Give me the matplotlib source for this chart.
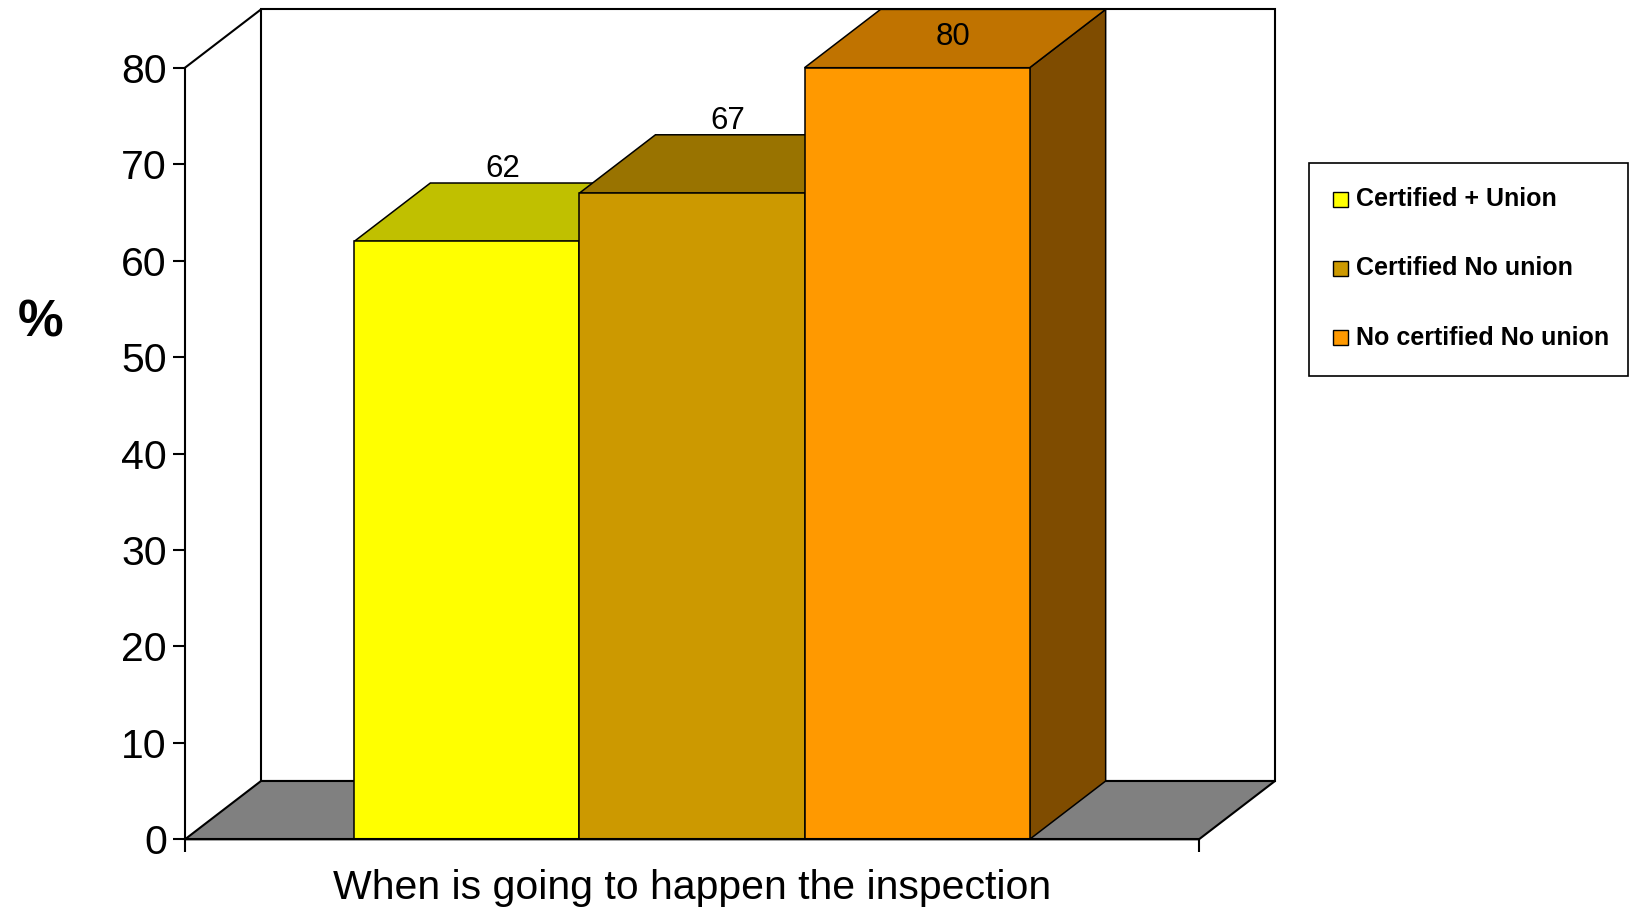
import matplotlib
matplotlib.use("Agg")
import matplotlib.pyplot as plt
from matplotlib.patches import Polygon, Rectangle
from matplotlib.transforms import blended_transform_factory

plt.rcParams['font.family'] = ['Liberation Sans', 'DejaVu Sans']

# ---- data ----
categories = ["When is going to happen the inspection"]
series = ["Certified + Union", "Certified No union", "No certified No union"]
values = [62, 67, 80]
front_colors = ["#FFFF00", "#CC9900", "#FF9900"]
top_colors = ["#C0C000", "#997300", "#C07300"]
side_colors = ["#808000", "#664C00", "#7F4C00"]
y_ticks = [0, 10, 20, 30, 40, 50, 60, 70, 80]
y_label = "%"

W, H = 1631, 911
fig = plt.figure(figsize=(W / 100, H / 100), dpi=100)

# axes: front floor from px x=185..1199, value 0 at px y=839.3, 80 at 67.7
x0, x1 = 185, 1199
yb, yt = 839.3, 67.7
ax = fig.add_axes([x0 / W, (H - yb) / H, (x1 - x0) / W, (yb - yt) / H])
ymax = 80
ax.set_xlim(0, 1)
ax.set_ylim(0, ymax)

px_per_unit = (yb - yt) / ymax
dx = 76 / (x1 - x0)
dy = 58.3 / px_per_unit

lw_axis = 1.5
lw_bar = 1.1

# back wall
ax.add_patch(Polygon([(dx, dy), (1 + dx, dy), (1 + dx, ymax + dy), (dx, ymax + dy)],
                     closed=True, facecolor="white", edgecolor="black",
                     lw=lw_axis, clip_on=False, zorder=1))
# floor
ax.add_patch(Polygon([(0, 0), (1, 0), (1 + dx, dy), (dx, dy)], closed=True,
                     facecolor="#808080", edgecolor="black", lw=lw_axis,
                     clip_on=False, zorder=1.5))
# left wall top edge
ax.plot([0, dx], [ymax, ymax + dy], color="black", lw=lw_axis, clip_on=False, zorder=1.6)

# highest baseline allowed for a value label (keeps it inside the figure)
label_cap = (yb - 45) / px_per_unit

# bars
n = len(values)
bw = 0.222
start = 0.5 - n * bw / 2
for i, (v, fc, tc, sc) in enumerate(zip(values, front_colors, top_colors, side_colors)):
    l = start + i * bw
    r = l + bw
    z = 3 + i
    ax.add_patch(Polygon([(r, 0), (r + dx, dy), (r + dx, v + dy), (r, v)], closed=True,
                         facecolor=sc, edgecolor="black", lw=lw_bar, clip_on=False, zorder=z))
    ax.add_patch(Polygon([(l, v), (r, v), (r + dx, v + dy), (l + dx, v + dy)], closed=True,
                         facecolor=tc, edgecolor="black", lw=lw_bar, clip_on=False, zorder=z))
    ax.add_patch(Rectangle((l, 0), bw, v, facecolor=fc, edgecolor="black",
                           lw=lw_bar, clip_on=False, zorder=z + 0.1))
    ly = min(v + dy + 6 / px_per_unit, label_cap)
    ax.text((l + r) / 2 + dx / 2 - 2 / (x1 - x0), ly, str(v), ha="center",
            va="baseline", fontsize=22.5, zorder=10, clip_on=False)

# spines / ticks
for s in ["top", "right"]:
    ax.spines[s].set_visible(False)
ax.spines["left"].set_linewidth(lw_axis)
ax.spines["bottom"].set_linewidth(lw_axis)
ax.spines["left"].set_zorder(8)
ax.spines["bottom"].set_zorder(8)
ax.set_yticks(y_ticks)
ax.tick_params(axis="y", direction="out", length=8.8, width=lw_axis, pad=4.3,
               labelsize=29.5)
ax.set_xticks([0, 1])
ax.set_xticklabels(["", ""])
ax.tick_params(axis="x", direction="out", length=9, width=lw_axis)
ax.patch.set_visible(False)

# category label
trans = blended_transform_factory(ax.transData, fig.transFigure)
ax.text(0.5, (H - 899.3) / H, categories[0], transform=trans, ha="center",
        va="baseline", fontsize=29.5)

# y label
fig.text(41 / W, 1 - 323 / H, y_label, ha="center", va="center", fontsize=37,
         fontweight="bold")

# legend (overlay in pixel coords)
lax = fig.add_axes([0, 0, 1, 1])
lax.set_xlim(0, W)
lax.set_ylim(H, 0)
lax.axis("off")
lax.add_patch(Rectangle((1309, 163.3), 1627.7 - 1309, 375.7 - 163.3, facecolor="white",
                        edgecolor="black", lw=1.2))
rows = [199, 268.3, 337.7]
for name, fc, yc in zip(series, front_colors, rows):
    lax.add_patch(Rectangle((1333.5, yc - 7.5), 15, 15, facecolor=fc, edgecolor="black", lw=1.0))
    lax.text(1356, yc, name, ha="left", va="center", fontsize=18, fontweight="bold")

fig.savefig("out.png", dpi=100)
